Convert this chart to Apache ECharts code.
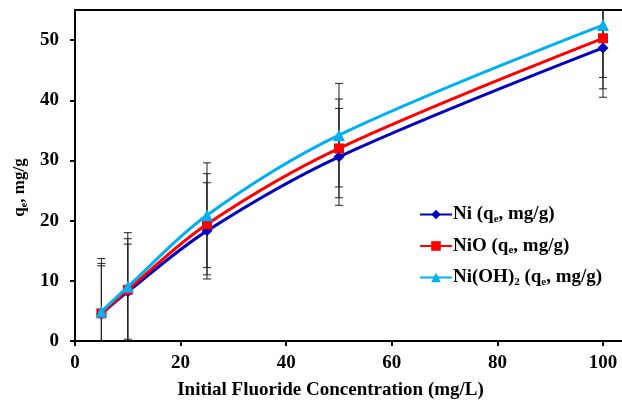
<!DOCTYPE html>
<html><head><meta charset="utf-8">
<script src="https://cdn.jsdelivr.net/npm/echarts@6/dist/echarts.min.js"></script>
<style>html,body{margin:0;padding:0;background:#fff}#c{width:622px;height:404px}</style>
</head><body><div id="c"></div>
<script>
var concentrations = [5, 10, 25, 50, 100];
var niValues = [4.5, 8.2, 18.3, 30.6, 48.7];
var nioValues = [4.6, 8.5, 19.4, 32.0, 50.3];
var niohValues = [4.9, 9.0, 20.9, 34.2, 52.5];
var niErrors = [8.0, 7.9, 8.0, 8.05, 8.2];
var nioErrors = [8.3, 8.5, 8.4, 8.2, 8.4];
var niohErrors = [8.8, 9.0, 8.7, 8.6, 8.7];
var xTicks = [0, 20, 40, 60, 80, 100];
var yTicks = [0, 10, 20, 30, 40, 50];

var font = '"Liberation Serif", "Times New Roman", serif';
var chart = echarts.init(document.getElementById('c'));

function pairs(vals) { return concentrations.map(function (x, i) { return [x, vals[i]]; }); }
function errData(vals, errs) { return concentrations.map(function (x, i) { return [x, vals[i] - errs[i], vals[i] + errs[i]]; }); }

function errSeries(vals, errs) {
  return {
    type: 'custom',
    clip: true,
    z: 1,
    silent: true,
    data: errData(vals, errs),
    encode: { x: 0, y: [1, 2] },
    renderItem: function (params, api) {
      var x = api.value(0);
      var lo = api.coord([x, api.value(1)]);
      var hi = api.coord([x, api.value(2)]);
      var w = 4;
      var st = { stroke: '#222', lineWidth: 1 };
      return {
        type: 'group',
        children: [
          { type: 'line', shape: { x1: lo[0], y1: lo[1], x2: hi[0], y2: hi[1] }, style: st },
          { type: 'line', shape: { x1: lo[0] - w, y1: lo[1], x2: lo[0] + w, y2: lo[1] }, style: st },
          { type: 'line', shape: { x1: hi[0] - w, y1: hi[1], x2: hi[0] + w, y2: hi[1] }, style: st }
        ]
      };
    }
  };
}

var legRich = {
  b: { fontFamily: font, fontWeight: 'bold', fontSize: 19, color: '#000' },
  s: { fontFamily: font, fontWeight: 'bold', fontSize: 11, color: '#000', padding: [9, 0, 0, 0] }
};
var yRich = {
  b: { fontFamily: font, fontWeight: 'bold', fontSize: 17, color: '#000' },
  s: { fontFamily: font, fontWeight: 'bold', fontSize: 10, color: '#000', padding: [8, 0, 0, 0] }
};

chart.setOption({
  animation: false,
  grid: { left: 75, right: 0, top: 10, bottom: 63, containLabel: false, outerBoundsMode: 'none' },
  xAxis: [{
    type: 'value', min: 0, max: 103.6, interval: 20,
    name: 'Initial Fluoride Concentration (mg/L)',
    nameLocation: 'middle', nameGap: 40,
    nameTextStyle: { fontFamily: font, fontWeight: 'bold', fontSize: 19, color: '#000', padding: [0, 36, 0, 0] },
    axisLine: { show: true, lineStyle: { color: '#000', width: 2 } },
    axisTick: { show: true, length: 5, lineStyle: { color: '#000', width: 2 }, customValues: xTicks },
    axisLabel: { fontFamily: font, fontWeight: 'bold', fontSize: 19, color: '#000', margin: 13, customValues: xTicks },
    splitLine: { show: false }
  }, {
    type: 'value', min: 0, max: 103.6, position: 'top',
    axisLine: { show: true, lineStyle: { color: '#000', width: 2 } },
    axisTick: { show: false }, axisLabel: { show: false }, splitLine: { show: false }
  }],
  yAxis: {
    type: 'value', min: 0, max: 55, interval: 10,
    name: '{b|q}{s|e}{b|, mg/g}',
    nameLocation: 'middle', nameGap: 46,
    nameTextStyle: { rich: yRich, fontFamily: font, fontWeight: 'bold', fontSize: 17, padding: [0, 0, 0, -24] },
    axisLine: { show: true, lineStyle: { color: '#000', width: 2 } },
    axisTick: { show: true, length: 5, lineStyle: { color: '#000', width: 2 }, customValues: yTicks },
    axisLabel: { fontFamily: font, fontWeight: 'bold', fontSize: 19, color: '#000', margin: 16, customValues: yTicks },
    splitLine: { show: false }
  },
  legend: {
    orient: 'vertical', left: 414, top: 200, itemGap: 12, itemWidth: 32, itemHeight: 12,
    data: ['Ni', 'NiO', 'Ni(OH)2'],
    formatter: function (name) {
      if (name === 'Ni') return '{b|Ni (q}{s|e}{b|, mg/g)}';
      if (name === 'NiO') return '{b|NiO (q}{s|e}{b|, mg/g)}';
      return '{b|Ni(OH)}{s|2}{b| (q}{s|e}{b|, mg/g)}';
    },
    textStyle: { rich: legRich, fontFamily: font, fontWeight: 'bold', fontSize: 19, padding: [0, 0, 0, -4] }
  },
  series: [
    errSeries(niValues, niErrors),
    errSeries(nioValues, nioErrors),
    errSeries(niohValues, niohErrors),
    { name: 'Ni', type: 'line', smooth: 0.35, data: pairs(niValues), z: 3,
      symbol: 'diamond', symbolSize: 11, lineStyle: { color: '#0000BF', width: 3 }, itemStyle: { color: '#0000BF' } },
    { name: 'NiO', type: 'line', smooth: 0.35, data: pairs(nioValues), z: 4,
      symbol: 'rect', symbolSize: 10, lineStyle: { color: '#FF0000', width: 3 }, itemStyle: { color: '#FF0000' } },
    { name: 'Ni(OH)2', type: 'line', smooth: 0.35, data: pairs(niohValues), z: 5,
      symbol: 'triangle', symbolSize: 12, lineStyle: { color: '#00B0F0', width: 3 }, itemStyle: { color: '#00B0F0' } }
  ]
});
</script></body></html>
